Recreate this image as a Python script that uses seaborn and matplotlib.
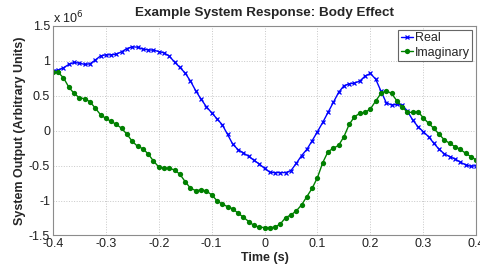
import numpy as np
import pandas as pd
import matplotlib
matplotlib.use('Agg')
import matplotlib.pyplot as plt
import seaborn as sns
from matplotlib.ticker import FuncFormatter, MultipleLocator

# time axis (s), one sample every 0.01 s
time = np.round(np.arange(-0.40, 0.401, 0.01), 2)

# system response, units of 1e6
real = [0.86, 0.867, 0.90, 0.948, 0.976, 0.967, 0.948, 0.957, 1.01, 1.07,
        1.086, 1.086, 1.095, 1.13, 1.176, 1.20, 1.195, 1.167, 1.157, 1.152,
        1.133, 1.114, 1.067, 0.981, 0.905, 0.824, 0.71, 0.571, 0.452, 0.343,
        0.257, 0.171, 0.086, -0.052, -0.195, -0.271, -0.319, -0.367, -0.424, -0.476,
        -0.54, -0.595, -0.60, -0.60, -0.60, -0.571, -0.467, -0.357, -0.267, -0.143,
        -0.014, 0.119, 0.262, 0.405, 0.548, 0.643, 0.671, 0.681, 0.71, 0.781,
        0.819, 0.738, 0.567, 0.40, 0.367, 0.376, 0.367, 0.281, 0.152, 0.057,
        -0.014, -0.086, -0.181, -0.267, -0.333, -0.371, -0.405, -0.45, -0.49, -0.51,
        -0.50]
imaginary = [0.843, 0.833, 0.757, 0.624, 0.533, 0.471, 0.457, 0.414, 0.324, 0.229,
             0.176, 0.133, 0.09, 0.033, -0.052, -0.152, -0.224, -0.257, -0.333, -0.433,
             -0.519, -0.538, -0.538, -0.562, -0.624, -0.729, -0.824, -0.857, -0.848, -0.862,
             -0.919, -1.0, -1.052, -1.086, -1.119, -1.181, -1.238, -1.30, -1.357, -1.381,
             -1.386, -1.386, -1.381, -1.333, -1.243, -1.205, -1.148, -1.062, -0.943, -0.824,
             -0.671, -0.457, -0.30, -0.252, -0.21, -0.086, 0.09, 0.20, 0.248, 0.262,
             0.31, 0.424, 0.533, 0.571, 0.533, 0.429, 0.343, 0.262, 0.262, 0.271,
             0.186, 0.105, 0.033, -0.052, -0.133, -0.181, -0.229, -0.267, -0.324, -0.371,
             -0.419]

df = pd.DataFrame({'time': time,
                   'Real': np.array(real) * 1e6,
                   'Imaginary': np.array(imaginary) * 1e6})

sns.set_style('whitegrid', {'grid.linestyle': ':', 'grid.color': '#c8c8c8',
                            'axes.edgecolor': '#8c8c8c'})
plt.rcParams['font.family'] = ['Liberation Sans', 'DejaVu Sans']

fig = plt.figure(figsize=(4.81, 2.64), dpi=100)
ax = fig.add_axes([0.110, 0.108, 0.880, 0.794])

sns.lineplot(data=df, x='time', y='Real', ax=ax, color='#0000ff', lw=1.0,
             marker='x', markersize=3, markeredgewidth=0.9,
             markeredgecolor='#0000ff', label='Real')
sns.lineplot(data=df, x='time', y='Imaginary', ax=ax, color='#008000', lw=1.0,
             marker='o', markersize=3.8, markeredgewidth=0,
             markeredgecolor='#008000', label='Imaginary')

ax.set_xlim(-0.4, 0.4)
ax.set_ylim(-1.5e6, 1.5e6)
ax.xaxis.set_major_locator(MultipleLocator(0.1))
ax.yaxis.set_major_locator(MultipleLocator(0.5e6))
ax.xaxis.set_major_formatter(FuncFormatter(lambda v, p: f'{round(v, 2):g}'))
ax.yaxis.set_major_formatter(FuncFormatter(lambda v, p: f'{v / 1e6:g}'))
ax.tick_params(labelsize=9, colors='#202020', direction='in', length=3,
               color='#8c8c8c', pad=2)
for s in ax.spines.values():
    s.set_linewidth(0.8)
ax.grid(True, lw=0.7)

ax.text(0.0, 1.0, r'x 10$^6$', transform=ax.transAxes, fontsize=9,
        color='#202020', va='bottom', ha='left')

ax.set_title('Example System Response: Body Effect', fontsize=9.7,
             fontweight='bold', pad=7)
ax.set_xlabel('Time (s)', fontsize=9, fontweight='bold', labelpad=1)
ax.set_ylabel('System Output (Arbitrary Units)', fontsize=9,
              fontweight='bold', labelpad=2)

leg = ax.legend(loc='upper right', fontsize=9, frameon=True, fancybox=False,
                borderaxespad=0.3, handlelength=1.0, handletextpad=0.15,
                borderpad=0.2, labelspacing=0.2)
leg.get_frame().set_edgecolor('#404040')
leg.get_frame().set_linewidth(0.8)

fig.savefig('out.png', dpi=100)
